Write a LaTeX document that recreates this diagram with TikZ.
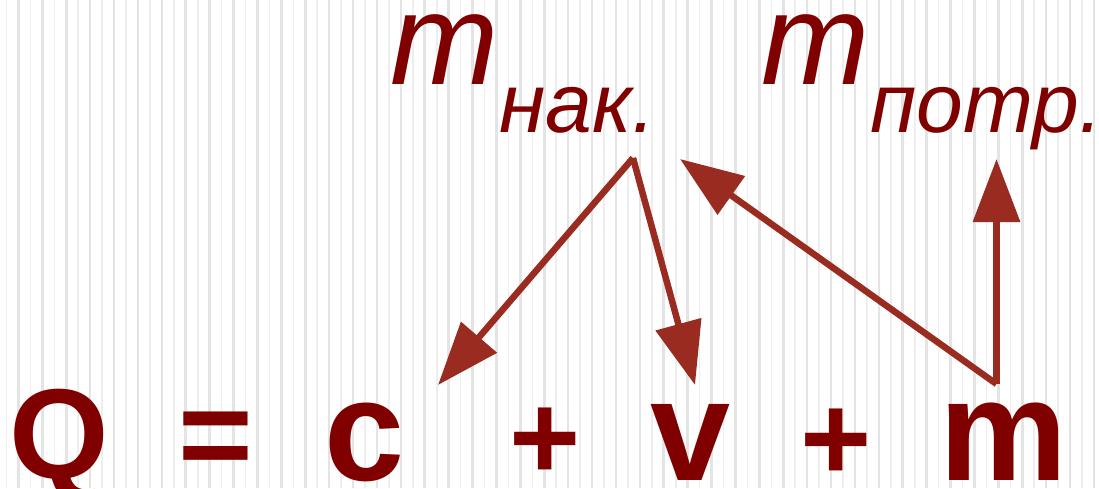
\documentclass[tikz,border=0pt]{standalone}
\usepackage{fontspec}
\setmainfont{Liberation Sans}
\usetikzlibrary{arrows.meta,calc}

\definecolor{textred}{RGB}{128,0,0}
\definecolor{arrowred}{RGB}{153,43,32}
\definecolor{stripeA}{RGB}{238,238,238}
\definecolor{stripeB}{RGB}{228,228,228}

\tikzset{
  formula/.style={anchor=base, inner sep=0pt, text=textred,
    font=\bfseries\fontsize{144}{144}\selectfont},
  opsign/.style={formula, font=\bfseries\fontsize{128}{128}\selectfont},
  plussign/.style={formula, font=\bfseries\fontsize{122}{122}\selectfont},
  massname/.style={anchor=base, inner sep=0pt, text=textred,
    font=\itshape\fontsize{130}{130}\selectfont},
  massindex/.style={anchor=base west, inner sep=0pt, text=textred,
    font=\itshape\fontsize{84}{84}\selectfont},
  flow/.style={draw=arrowred, line width=6.5pt,
    -{Triangle[length=63pt,width=46pt]}},
}

\begin{document}
\begin{tikzpicture}[x=1pt,y=1pt]

% ---------- Parameter ----------
\def\W{1099}
\def\H{488}
\def\stripe{11.95}

% ---------- Hintergrund (Streifen) ----------
\useasboundingbox (0,0) rectangle (\W,\H);
\fill[white] (0,0) rectangle (\W,\H);
\foreach \i in {0,...,91}{
  \pgfmathsetmacro{\xs}{6.5+\i*\stripe}
  \ifodd\i
    \fill[stripeB] (\xs-1.3,0) rectangle (\xs+1.3,\H);
  \else
    \fill[stripeA] (\xs-0.8,0) rectangle (\xs+0.8,\H);
  \fi
}

% ---------- Formel unten ----------
\node[opsign]   (Q)  at (59,10)    {Q};
\node[opsign]   (eq) at (215.5,10) {=};
\node[formula]  (c)  at (365,8)    {c};
\node[plussign] (p1) at (545.5,9)  {+};
\node[formula]  (v)  at (690.5,8)  {v};
\node[plussign] (p2) at (836.5,8)  {+};
\node[formula]  (m)  at (1004,8)   {m};

% ---------- Beschriftung oben ----------
\node[massname]  (mnak)  at (445,403) {m};
\node[massindex] (snak)  at ([yshift=-48]mnak.base east) {нак.};
\node[massname]  (mpotr) at (816,403) {m};
\node[massindex] (spotr) at ([yshift=-48]mpotr.base east) {потр.};

% ---------- Pfeile ----------
\coordinate (nakfoot) at (633,330);
\coordinate (ctip)    at (438,103);
\coordinate (vtip)    at (695,103);
\coordinate (mfoot)   at (996.5,104);
\coordinate (naktip)  at (680,329);
\coordinate (potrtip) at (996.5,329);

\draw[flow] (nakfoot) -- (ctip);
\draw[flow] (nakfoot) -- (vtip);
\draw[flow] (mfoot) -- (naktip);
\draw[flow] (mfoot) -- (potrtip);

\end{tikzpicture}
\end{document}
